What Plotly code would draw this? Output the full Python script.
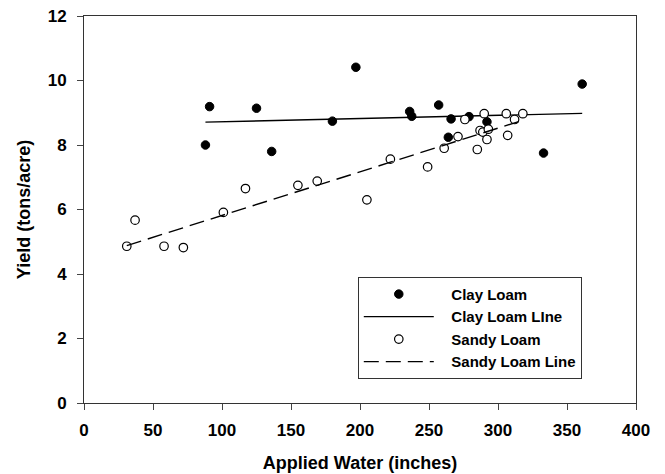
import plotly.graph_objects as go

# Clay loam observations
clay_x = [88, 91, 125, 136, 180, 197, 236, 237.5, 257, 264, 266, 279, 292, 333, 361]
clay_y = [8.0, 9.19, 9.14, 7.80, 8.74, 10.41, 9.04, 8.89, 9.24, 8.24, 8.81, 8.88, 8.72, 7.75, 9.89]

# Sandy loam observations
sandy_x = [31, 37, 58, 72, 101, 117, 155, 169, 205, 222, 249, 261, 271, 276, 285, 287, 289, 290,
           292, 293, 306, 307, 312, 318]
sandy_y = [4.86, 5.67, 4.86, 4.82, 5.91, 6.65, 6.75, 6.88, 6.30, 7.56, 7.32, 7.90, 8.26, 8.79,
           7.86, 8.45, 8.40, 8.97, 8.17, 8.49, 8.97, 8.30, 8.79, 8.97]

# fitted lines (end points)
clay_line_x = [88, 361]
clay_line_y = [8.71, 8.98]
sandy_line_x = [31, 316]
sandy_line_y = [4.88, 8.74]

x_ticks = [0, 50, 100, 150, 200, 250, 300, 350, 400]
y_ticks = [0, 2, 4, 6, 8, 10, 12]

FONT = "Arial, 'Liberation Sans', sans-serif"
PAD = '\u00a0\u00a0\u00a0'  # pushes legend text away from the symbol column

fig = go.Figure()

fig.add_trace(go.Scatter(
    x=clay_x, y=clay_y, mode='markers', name=PAD + 'Clay Loam',
    marker=dict(symbol='circle', size=8.5, color='black', line=dict(color='black', width=1))
))
fig.add_trace(go.Scatter(
    x=clay_line_x, y=clay_line_y, mode='lines', name=PAD + 'Clay Loam LIne',
    line=dict(color='black', width=1.4)
))
fig.add_trace(go.Scatter(
    x=sandy_x, y=sandy_y, mode='markers', name=PAD + 'Sandy Loam',
    marker=dict(symbol='circle', size=8.5, color='white', line=dict(color='black', width=1.2))
))
fig.add_trace(go.Scatter(
    x=sandy_line_x, y=sandy_line_y, mode='lines', name=PAD + 'Sandy Loam Line',
    line=dict(color='black', width=1.4, dash='15px,7px')
))

# page body has an 8px margin, so the figure is drawn 8px smaller
fig.update_layout(
    width=657, height=466,
    margin=dict(l=76, r=29, t=8, b=71),
    paper_bgcolor='white', plot_bgcolor='white',
    font=dict(family=FONT, color='black', size=15, weight='bold'),
    showlegend=True,
    legend=dict(
        x=0.496, y=0.326, xanchor='left', yanchor='top',
        bgcolor='white', bordercolor='#333333', borderwidth=1,
        font=dict(family=FONT, size=15, weight='bold'),
        itemwidth=70, tracegroupgap=0,
    ),
)

fig.update_xaxes(
    range=[0, 400], tickvals=x_ticks, ticks='outside', ticklen=6, tickwidth=1,
    tickfont=dict(size=17, weight='bold'), automargin=False, ticklabelstandoff=6,
    ticklabeloverflow='allow',
    showline=True, linecolor='#333333', linewidth=1, mirror=True,
    showgrid=False, zeroline=False,
    title=dict(text='Applied Water (inches)', font=dict(size=18, weight='bold'), standoff=16),
)
fig.update_yaxes(
    range=[0, 12], tickvals=y_ticks, ticks='outside', ticklen=6, tickwidth=1,
    tickfont=dict(size=17, weight='bold'), automargin=False, ticklabelstandoff=7,
    ticklabeloverflow='allow',
    showline=True, linecolor='#333333', linewidth=1, mirror=True,
    showgrid=False, zeroline=False,
    title=dict(text='Yield (tons/acre)', font=dict(size=18, weight='bold'), standoff=12),
)

fig.write_html("out.html")
